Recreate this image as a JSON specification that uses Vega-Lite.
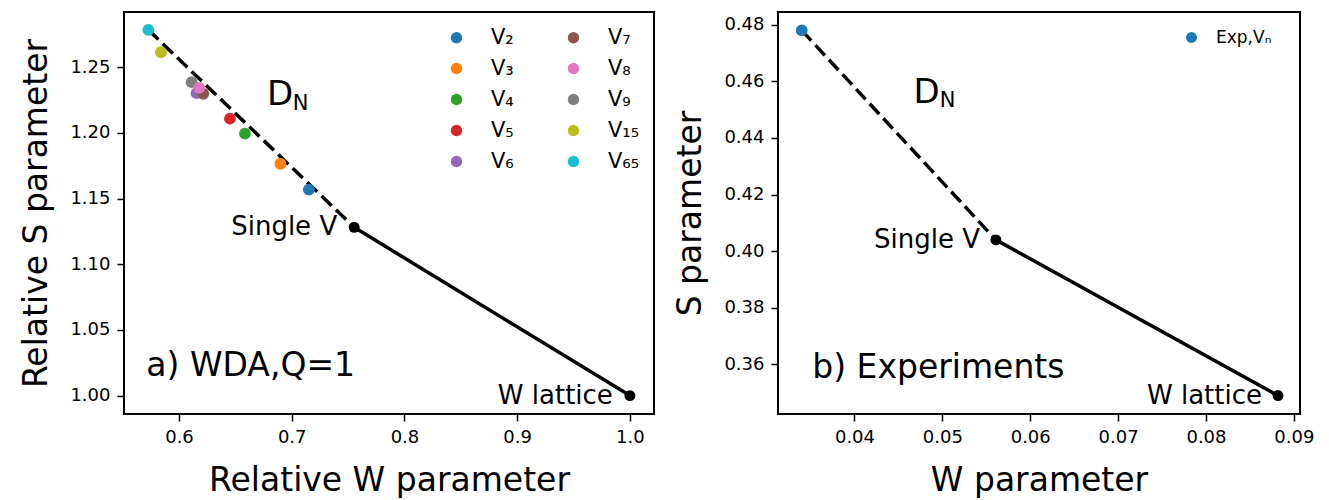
{
  "$schema": "https://vega.github.io/schema/vega-lite/v6.json",
  "background": "white",
  "padding": {"left": 19, "top": 11, "right": 20, "bottom": 5},
  "datasets": {
    "wda_v": [
      {"W": 0.7152, "S": 1.1568, "V": "V₂"},
      {"W": 0.690, "S": 1.1765, "V": "V₃"},
      {"W": 0.6585, "S": 1.1994, "V": "V₄"},
      {"W": 0.6452, "S": 1.2108, "V": "V₅"},
      {"W": 0.5728, "S": 1.2784, "V": "V₆₅"},
      {"W": 0.584, "S": 1.2614, "V": "V₁₅"},
      {"W": 0.6112, "S": 1.2386, "V": "V₉"},
      {"W": 0.6156, "S": 1.2302, "V": "V₆"},
      {"W": 0.6215, "S": 1.2298, "V": "V₇"},
      {"W": 0.618, "S": 1.2343, "V": "V₈"}
    ],
    "wda_dash": [
      {"W": 0.5728, "S": 1.2784},
      {"W": 0.7554, "S": 1.1281}
    ],
    "wda_solid": [
      {"W": 0.7554, "S": 1.1281},
      {"W": 1.0, "S": 1.0}
    ],
    "wda_ref": [
      {"W": 0.7554, "S": 1.1281, "name": "Single V"},
      {"W": 1.0, "S": 1.0, "name": "W lattice"}
    ],
    "wda_label": [
      {"W": 0.571, "S": 1.0224, "t": "a) WDA,Q=1"}
    ],
    "wda_D": [{"W": 0.6897, "S": 1.2285, "t": "D"}],
    "wda_N": [{"W": 0.7078, "S": 1.2222, "t": "N"}],
    "exp_v": [{"W": 0.034, "S": 0.478, "L": "Exp,Vₙ"}],
    "exp_dash": [
      {"W": 0.034, "S": 0.478},
      {"W": 0.0561, "S": 0.404}
    ],
    "exp_solid": [
      {"W": 0.0561, "S": 0.404},
      {"W": 0.0882, "S": 0.349}
    ],
    "exp_ref": [
      {"W": 0.0561, "S": 0.404, "name": "Single V"},
      {"W": 0.0882, "S": 0.349, "name": "W lattice"}
    ],
    "exp_label": [{"W": 0.0352, "S": 0.3586, "t": "b) Experiments"}],
    "exp_D": [{"W": 0.0482, "S": 0.4559, "t": "D"}],
    "exp_N": [{"W": 0.0506, "S": 0.4529, "t": "N"}]
  },
  "hconcat": [
    {
      "width": 530,
      "height": 402,
      "encoding": {
        "x": {
          "field": "W", "type": "quantitative",
          "scale": {"domain": [0.5512, 1.0214], "nice": false, "zero": false},
          "axis": {"values": [0.6, 0.7, 0.8, 0.9, 1.0], "format": ".1f", "title": "Relative W parameter"}
        },
        "y": {
          "field": "S", "type": "quantitative",
          "scale": {"domain": [0.986, 1.292], "nice": false, "zero": false},
          "axis": {"values": [1.0, 1.05, 1.1, 1.15, 1.2, 1.25], "format": ".2f", "title": "Relative S parameter"}
        }
      },
      "layer": [
        {
          "data": {"name": "wda_dash"},
          "mark": {"type": "line", "color": "black", "strokeWidth": 3.5, "strokeDash": [14, 6]}
        },
        {
          "data": {"name": "wda_solid"},
          "mark": {"type": "line", "color": "black", "strokeWidth": 3.5}
        },
        {
          "data": {"name": "wda_v"},
          "mark": {"type": "point", "filled": true, "size": 140, "opacity": 1},
          "encoding": {
            "color": {
              "field": "V", "type": "nominal",
              "scale": {
                "domain": ["V₂", "V₃", "V₄", "V₅", "V₆", "V₇", "V₈", "V₉", "V₁₅", "V₆₅"],
                "range": ["#1f77b4", "#ff7f0e", "#2ca02c", "#d62728", "#9467bd", "#8c564b", "#e377c2", "#7f7f7f", "#bcbd22", "#17becf"]
              },
              "legend": {
                "title": null, "orient": "none", "legendX": 322, "legendY": 15,
                "columns": 2, "symbolType": "circle", "symbolSize": 130, "symbolStrokeWidth": 0, "symbolOpacity": 1,
                "labelFontSize": 21, "labelFont": "DejaVu Sans", "labelColor": "black",
                "labelOffset": 24, "rowPadding": 9, "columnPadding": 49
              }
            }
          }
        },
        {
          "data": {"name": "wda_ref"},
          "mark": {"type": "point", "filled": true, "size": 120, "color": "black", "opacity": 1}
        },
        {
          "data": {"name": "wda_ref"},
          "mark": {"type": "text", "align": "right", "baseline": "middle", "dx": -17, "fontSize": 26, "font": "DejaVu Sans", "color": "black"},
          "encoding": {"text": {"field": "name"}}
        },
        {
          "data": {"name": "wda_label"},
          "mark": {"type": "text", "align": "left", "baseline": "middle", "fontSize": 33, "font": "DejaVu Sans", "color": "black"},
          "encoding": {"text": {"field": "t"}}
        },
        {
          "data": {"name": "wda_D"},
          "mark": {"type": "text", "align": "center", "baseline": "middle", "fontSize": 34, "font": "DejaVu Sans", "color": "black"},
          "encoding": {"text": {"field": "t"}}
        },
        {
          "data": {"name": "wda_N"},
          "mark": {"type": "text", "align": "center", "baseline": "middle", "fontSize": 21, "font": "DejaVu Sans", "color": "black"},
          "encoding": {"text": {"field": "t"}}
        }
      ]
    },
    {
      "width": 522,
      "height": 402,
      "encoding": {
        "x": {
          "field": "W", "type": "quantitative",
          "scale": {"domain": [0.0313, 0.0907], "nice": false, "zero": false},
          "axis": {"values": [0.04, 0.05, 0.06, 0.07, 0.08, 0.09], "format": ".2f", "title": "W parameter"}
        },
        "y": {
          "field": "S", "type": "quantitative",
          "scale": {"domain": [0.3425, 0.4845], "nice": false, "zero": false},
          "axis": {"values": [0.36, 0.38, 0.4, 0.42, 0.44, 0.46, 0.48], "format": ".2f", "title": "S parameter"}
        }
      },
      "layer": [
        {
          "data": {"name": "exp_dash"},
          "mark": {"type": "line", "color": "black", "strokeWidth": 3.5, "strokeDash": [14, 6]}
        },
        {
          "data": {"name": "exp_solid"},
          "mark": {"type": "line", "color": "black", "strokeWidth": 3.5}
        },
        {
          "data": {"name": "exp_v"},
          "mark": {"type": "point", "filled": true, "size": 140, "opacity": 1},
          "encoding": {
            "color": {
              "field": "L", "type": "nominal",
              "scale": {"domain": ["Exp,Vₙ"], "range": ["#1f77b4"]},
              "legend": {
                "title": null, "orient": "none", "legendX": 405, "legendY": 17,
                "symbolType": "circle", "symbolSize": 120, "symbolStrokeWidth": 0, "symbolOpacity": 1,
                "labelFontSize": 17, "labelFont": "DejaVu Sans", "labelColor": "black", "labelOffset": 16
              }
            }
          }
        },
        {
          "data": {"name": "exp_ref"},
          "mark": {"type": "point", "filled": true, "size": 120, "color": "black", "opacity": 1}
        },
        {
          "data": {"name": "exp_ref"},
          "mark": {"type": "text", "align": "right", "baseline": "middle", "dx": -16, "fontSize": 26, "font": "DejaVu Sans", "color": "black"},
          "encoding": {"text": {"field": "name"}}
        },
        {
          "data": {"name": "exp_label"},
          "mark": {"type": "text", "align": "left", "baseline": "middle", "fontSize": 33, "font": "DejaVu Sans", "color": "black"},
          "encoding": {"text": {"field": "t"}}
        },
        {
          "data": {"name": "exp_D"},
          "mark": {"type": "text", "align": "center", "baseline": "middle", "fontSize": 34, "font": "DejaVu Sans", "color": "black"},
          "encoding": {"text": {"field": "t"}}
        },
        {
          "data": {"name": "exp_N"},
          "mark": {"type": "text", "align": "center", "baseline": "middle", "fontSize": 21, "font": "DejaVu Sans", "color": "black"},
          "encoding": {"text": {"field": "t"}}
        }
      ]
    }
  ],
  "spacing": 124,
  "bounds": "flush",
  "resolve": {
    "scale": {"x": "independent", "y": "independent", "color": "independent"},
    "legend": {"color": "independent"}
  },
  "config": {
    "view": {"stroke": "black", "strokeWidth": 2},
    "axis": {
      "domain": false, "grid": false, "ticks": true,
      "tickColor": "black", "tickSize": 7, "tickWidth": 1.5,
      "labelFont": "DejaVu Sans", "labelFontSize": 18, "labelColor": "black", "labelPadding": 7,
      "titleFont": "DejaVu Sans", "titleFontSize": 33, "titleFontWeight": "normal", "titleColor": "black"
    },
    "axisX": {"titlePadding": 18},
    "axisY": {"titlePadding": 16},
    "legend": {"padding": 0}
  }
}
